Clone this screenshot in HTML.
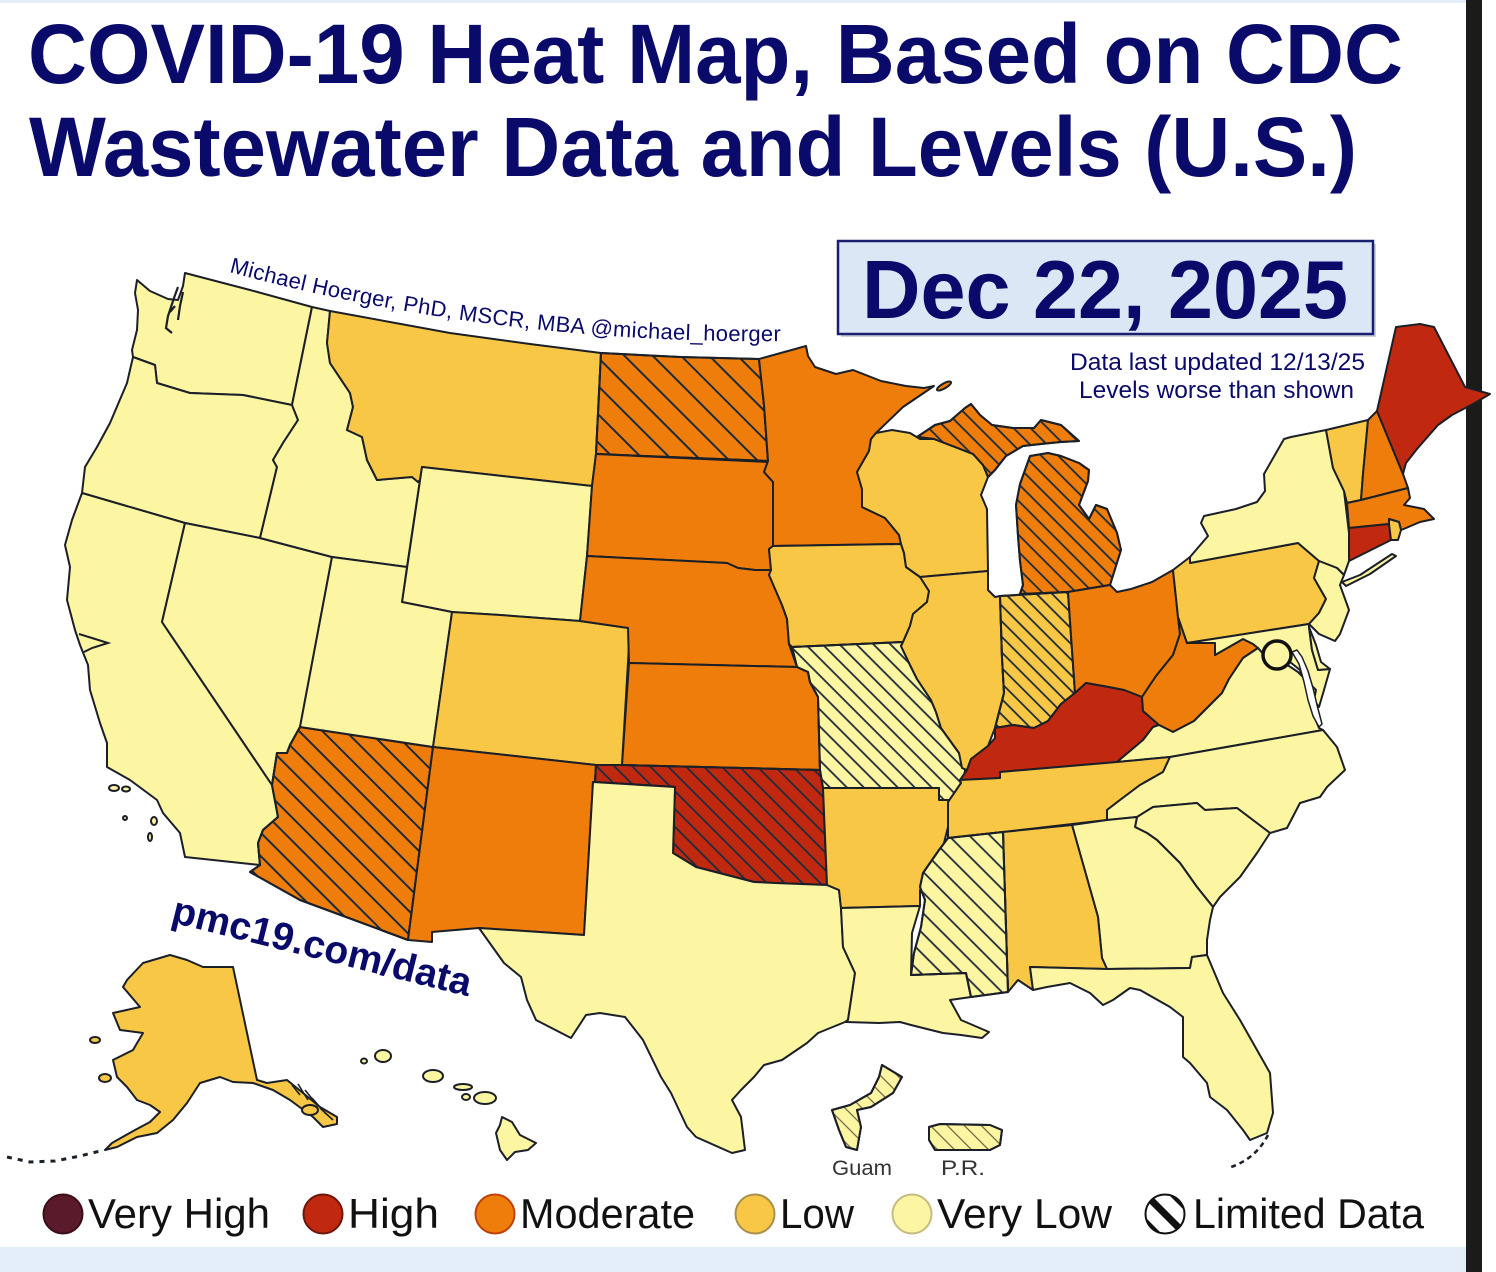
<!DOCTYPE html>
<html><head><meta charset="utf-8"><style>
html,body{margin:0;padding:0;background:#fff;}
svg{display:block;font-family:"Liberation Sans",Arial,sans-serif;}
</style></head><body>
<svg width="1496" height="1272" viewBox="0 0 1496 1272" xmlns="http://www.w3.org/2000/svg">
<defs>
<pattern id="h20" patternUnits="userSpaceOnUse" width="20" height="20" patternTransform="rotate(-45)"><line x1="10" y1="0" x2="10" y2="20" stroke="#1e2b3b" stroke-width="2"/></pattern>
<pattern id="h16" patternUnits="userSpaceOnUse" width="16.5" height="20" patternTransform="rotate(-45)"><line x1="8" y1="0" x2="8" y2="20" stroke="#1e2b3b" stroke-width="2"/></pattern>
<pattern id="h15" patternUnits="userSpaceOnUse" width="14.6" height="20" patternTransform="rotate(-45)"><line x1="7" y1="0" x2="7" y2="20" stroke="#1e2b3b" stroke-width="1.8"/></pattern>
<pattern id="h13" patternUnits="userSpaceOnUse" width="12.6" height="20" patternTransform="rotate(-45)"><line x1="6" y1="0" x2="6" y2="20" stroke="#1e2b3b" stroke-width="1.8"/></pattern>
<pattern id="h12" patternUnits="userSpaceOnUse" width="12" height="20" patternTransform="rotate(-45)"><line x1="6" y1="0" x2="6" y2="20" stroke="#1e2b3b" stroke-width="1.8"/></pattern>
<pattern id="h11" patternUnits="userSpaceOnUse" width="11" height="20" patternTransform="rotate(-45)"><line x1="5" y1="0" x2="5" y2="20" stroke="#1e2b3b" stroke-width="1.8"/></pattern>
<pattern id="hg" patternUnits="userSpaceOnUse" width="12" height="20" patternTransform="rotate(-45)"><line x1="6" y1="0" x2="6" y2="20" stroke="#6a6040" stroke-width="1.2"/></pattern>
<clipPath id="ldclip"><circle cx="1165" cy="1214" r="19"/></clipPath>
<path id="arc" d="M229,272 Q500,345 792,341" fill="none"/>
</defs>

<rect x="0" y="0" width="1466" height="3" fill="#e3eef9"/>
<rect x="0" y="1247" width="1466" height="25" fill="#e3eef9"/>
<rect x="1466" y="0" width="16" height="1272" fill="#1b1b19"/>

<!-- Title -->
<text x="28" y="83" font-size="84" font-weight="bold" fill="#0a0a6a" textLength="1375" lengthAdjust="spacingAndGlyphs">COVID-19 Heat Map, Based on CDC</text>
<text x="29" y="176" font-size="84" font-weight="bold" fill="#0a0a6a" textLength="1328" lengthAdjust="spacingAndGlyphs">Wastewater Data and Levels (U.S.)</text>

<!-- Date box -->
<rect x="841" y="244" width="535" height="93" fill="#9aa3b3" opacity="0.5"/>
<rect x="838" y="241" width="535" height="93" fill="#dbe7f5" stroke="#1a2070" stroke-width="2.5"/>
<text x="862" y="318" font-size="83" font-weight="bold" fill="#0a0a6a" textLength="486" lengthAdjust="spacingAndGlyphs">Dec 22, 2025</text>
<text x="1070" y="370" font-size="24.5" fill="#0a0a6a" textLength="295" lengthAdjust="spacingAndGlyphs">Data last updated 12/13/25</text>
<text x="1079" y="398" font-size="24.5" fill="#0a0a6a" textLength="275" lengthAdjust="spacingAndGlyphs">Levels worse than shown</text>

<!-- Curved credit -->
<text font-size="22" fill="#0a0a6a" letter-spacing="0.3"><textPath href="#arc">Michael Hoerger, PhD, MSCR, MBA  @michael_hoerger</textPath></text>

<!-- MAP -->
<g stroke="#1b1f28" stroke-width="2" stroke-linejoin="round">
<!-- West -->
<polygon fill="#fcf5a2" points="137,280 150,291 168,299 178,300 183,286 185,273 250,290 312,307 292,405 243,395 190,393 157,383 155,365 133,357 132,350 137,330 138,310 135,293"/>
<polygon fill="#fcf5a2" points="133,357 155,365 157,383 190,393 243,395 292,405 298,420 283,443 273,460 277,467 260,538 185,523 82,493 85,467 97,447 110,423 127,383"/>
<polygon fill="#fcf5a2" points="82,493 185,523 162,622 272,785 278,817 263,830 258,843 260,865 185,857 180,833 163,813 157,800 130,780 107,767 107,743 100,723 90,690 88,665 80,645 75,630 67,600 70,567 65,545 72,520"/>
<polygon fill="#fcf5a2" points="185,523 260,538 332,557 300,727 290,745 287,753 277,753 272,785 162,622"/>
<polygon fill="#ee7d0c" points="300,727 433,747 408,940 300,900 250,872 260,865 258,843 263,830 278,817 272,785 277,753 287,753 290,745"/>
<polygon fill="url(#h16)" points="300,727 433,747 408,940 300,900 250,872 260,865 258,843 263,830 278,817 272,785 277,753 287,753 290,745"/>
<polygon fill="#fcf5a2" points="312,307 330,311 327,343 330,363 350,393 353,407 347,430 362,437 367,460 377,480 412,477 418,482 420,480 407,567 332,557 260,538 277,467 273,460 283,443 298,420 292,405"/>
<polygon fill="#f8c745" points="330,311 390,322 450,333 530,344 601,353 596,454 592,486 422,467 420,480 418,482 412,477 377,480 367,460 362,437 347,430 353,407 350,393 330,363 327,343"/>
<polygon fill="#fcf5a2" points="422,467 592,486 587,556 580,621 500,615 452,612 402,602"/>
<polygon fill="#fcf5a2" points="332,557 407,567 402,602 452,612 433,747 300,727"/>
<polygon fill="#f8c745" points="452,612 500,615 580,621 630,628 622,765 596,765 433,747"/>
<polygon fill="#ee7d0c" points="433,747 596,765 595,782 593,782 584,935 479,928 432,932 432,942 408,940"/>
<!-- Plains -->
<polygon fill="#ee7d0c" points="601,353 680,357 759,359 764,405 768,461 596,454"/>
<polygon fill="url(#h20)" points="601,353 680,357 759,359 764,405 768,461 596,454"/>
<polygon fill="#ee7d0c" points="596,454 768,462 764,472 773,482 773,546 769,549 771,570 755,570 738,568 727,563 587,556 592,486"/>
<polygon fill="#ee7d0c" points="587,556 727,563 738,568 755,570 771,570 769,575 782,605 787,619 789,644 797,667 629,663 628,628 580,621"/>
<polygon fill="#ee7d0c" points="629,663 797,667 808,672 810,682 818,697 820,770 622,765"/>
<polygon fill="#c0290f" points="596,765 622,765 820,770 823,788 827,885 775,883 754,882 696,867 673,853 675,787 595,782"/>
<polygon fill="url(#h13)" points="596,765 622,765 820,770 823,788 827,885 775,883 754,882 696,867 673,853 675,787 595,782"/>
<polygon fill="#fcf5a2" points="593,782 675,787 673,853 696,867 754,882 775,883 827,885 839,890 841,908 843,947 855,973 848,1020 845,1022 818,1033 807,1043 782,1060 764,1065 754,1077 741,1090 732,1100 741,1117 745,1150 732,1153 696,1137 687,1127 671,1093 661,1077 643,1040 625,1017 600,1013 586,1015 571,1038 536,1020 527,1000 521,977 504,963 479,928 584,935"/>
<polygon fill="#ee7d0c" points="759,359 806,346 808,356 815,367 836,374 853,370 881,381 906,386 924,388 934,386 903,407 876,433 871,439 869,451 857,472 862,489 862,507 885,518 899,535 901,544 773,546 773,482 764,472 768,461 764,405"/>
<polygon fill="#f8c745" points="773,546 901,544 904,553 906,567 920,577 929,591 927,602 913,614 910,626 903,642 792,647 789,644 787,619 782,605 769,575 771,570 769,549"/>
<polygon fill="#fcf5a2" points="792,647 903,642 901,646 910,665 917,679 931,700 936,712 941,728 959,753 966,767 962,784 959,795 954,800 939,800 939,788 823,788 820,770 818,697 810,682 808,672 797,667"/>
<polygon fill="url(#h12)" points="792,647 903,642 901,646 910,665 917,679 931,700 936,712 941,728 959,753 966,767 962,784 959,795 954,800 939,800 939,788 823,788 820,770 818,697 810,682 808,672 797,667"/>
<polygon fill="#f8c745" points="823,788 939,788 939,800 954,800 948,827 943,847 929,873 920,890 920,906 841,908 839,890 827,885"/>
<polygon fill="#fcf5a2" points="841,908 920,906 912,933 911,975 966,973 971,997 950,1000 961,1020 989,1032 982,1038 961,1035 943,1033 911,1025 900,1022 879,1023 846,1022 848,1020 855,973 843,947"/>
<!-- Great Lakes / Midwest -->
<polygon fill="#f8c745" points="876,433 892,430 910,433 920,439 934,439 955,447 973,454 983,465 990,475 988,477 981,495 987,509 988,571 920,577 906,567 904,553 901,544 899,535 885,518 862,507 862,489 857,472 869,451 871,439"/>
<polygon fill="#ee7d0c" points="917,437 935,425 950,421 965,408 971,404 980,415 992,425 1013,428 1034,428 1041,420 1061,425 1079,441 1061,442 1041,444 1023,446 1006,456 995,470 988,477 983,465 973,454 955,447 934,439"/>
<polygon fill="url(#h12)" points="917,437 935,425 950,421 965,408 971,404 980,415 992,425 1013,428 1034,428 1041,420 1061,425 1079,441 1061,442 1041,444 1023,446 1006,456 995,470 988,477 983,465 973,454 955,447 934,439"/>
<polygon fill="#ee7d0c" points="1030,456 1048,453 1061,456 1079,463 1089,470 1088,481 1079,505 1089,519 1096,505 1107,509 1117,533 1121,550 1110,585 1068,592 1020,594 1023,585 1020,561 1018,536 1016,505 1020,484"/>
<polygon fill="url(#h12)" points="1030,456 1048,453 1061,456 1079,463 1089,470 1088,481 1079,505 1089,519 1096,505 1107,509 1117,533 1121,550 1110,585 1068,592 1020,594 1023,585 1020,561 1018,536 1016,505 1020,484"/>
<polygon fill="#f8c745" points="920,577 988,571 988,590 995,597 1000,596 1002,658 1004,693 995,728 988,746 971,759 967,770 962,768 959,753 941,728 936,712 931,700 917,679 910,665 901,646 903,642 910,626 913,614 927,602 929,591"/>
<polygon fill="#f8c745" points="1000,596 1068,592 1075,693 1061,704 1048,721 1034,728 1013,725 995,728 1004,693 1002,658"/>
<polygon fill="url(#h11)" points="1000,596 1068,592 1075,693 1061,704 1048,721 1034,728 1013,725 995,728 1004,693 1002,658"/>
<polygon fill="#ee7d0c" points="1068,592 1110,585 1117,592 1131,589 1152,582 1173,570 1178,617 1180,634 1173,655 1156,676 1142,697 1124,690 1103,686 1086,683 1075,693"/>
<polygon fill="#c0290f" points="1075,693 1086,683 1103,686 1124,690 1142,697 1143,711 1159,725 1153,727 1143,740 1117,762 1000,772 1000,778 960,780 967,770 971,759 988,746 995,738 995,728 1013,725 1034,728 1048,721 1061,704"/>
<polygon fill="#ee7d0c" points="1178,617 1187,643 1215,643 1215,655 1243,639 1253,644 1258,648 1243,658 1229,679 1222,693 1208,707 1194,721 1173,732 1159,725 1143,711 1142,697 1156,676 1173,655 1180,634"/>
<!-- Northeast -->
<polygon fill="#f8c745" points="1173,570 1190,557 1190,563 1298,543 1319,561 1314,578 1326,599 1319,613 1309,624 1187,643 1178,617"/>
<polygon fill="#fcf5a2" points="1190,557 1208,536 1201,523 1204,516 1236,509 1257,502 1265,491 1264,474 1284,439 1291,437 1326,430 1333,468 1344,491 1349,533 1349,561 1344,575 1337,568 1319,561 1298,543 1190,563"/>
<polygon fill="#fcf5a2" points="1342,582 1360,575 1392,554 1396,556 1370,574 1346,586"/>
<polygon fill="#f8c745" points="1326,430 1368,420 1363,474 1361,500 1347,503 1344,491 1333,468"/>
<polygon fill="#ee7d0c" points="1368,420 1377,411 1403,474 1408,488 1361,500 1363,474"/>
<polygon fill="#c0290f" points="1377,411 1396,327 1420,324 1434,327 1465,387 1490,394 1473,404 1452,415 1438,425 1417,449 1406,463 1403,474"/>
<polygon fill="#ee7d0c" points="1347,503 1361,500 1408,488 1410,498 1404,505 1424,509 1434,519 1420,522 1406,528 1401,530 1399,522 1389,519 1389,524 1349,528"/>
<polygon fill="#c0290f" points="1349,528 1389,524 1391,540 1351,560 1349,561"/>
<polygon fill="#f8c745" points="1389,519 1399,522 1401,530 1398,540 1391,540 1389,524"/>
<polygon fill="#fcf5a2" points="1319,561 1337,568 1344,575 1340,585 1349,610 1340,634 1335,641 1319,634 1309,624 1319,613 1326,599 1314,578"/>
<polygon fill="#fcf5a2" points="1187,643 1309,624 1309,627 1312,650 1318,670 1330,669 1324,690 1319,707 1306,690 1300,670 1290,662 1280,656 1264,655 1258,648 1253,644 1243,639 1215,655 1215,643"/>
<polygon fill="#fcf5a2" points="1309,627 1316,645 1321,662 1330,669 1318,670 1312,650"/>
<polygon fill="#fcf5a2" points="1117,762 1143,740 1153,727 1159,725 1173,732 1194,721 1208,707 1222,693 1229,679 1243,658 1258,648 1264,655 1280,660 1298,672 1316,690 1312,711 1319,728 1323,730 1170,757"/>
<polygon fill="#ffffff" stroke-width="1.5" points="1292,652 1299,664 1304,682 1308,700 1313,716 1319,727 1322,724 1317,705 1313,688 1308,671 1302,657 1297,650"/>
<!-- South -->
<polygon fill="#f8c745" points="960,780 1000,778 1000,772 1117,762 1170,757 1163,772 1140,785 1120,800 1107,810 1107,820 1003,832 948,838 948,802 961,783"/>
<polygon fill="#fcf5a2" points="1170,757 1323,730 1337,747 1345,770 1327,787 1320,797 1300,803 1287,828 1270,833 1237,808 1205,810 1197,803 1153,807 1137,817 1107,820 1107,810 1120,800 1140,785 1163,772"/>
<polygon fill="#fcf5a2" points="1137,817 1153,807 1197,803 1205,810 1237,808 1270,833 1257,853 1240,877 1220,897 1213,907 1197,887 1180,863 1157,840 1147,833 1135,827"/>
<polygon fill="#fcf5a2" points="1072,825 1107,820 1137,817 1135,827 1147,833 1157,840 1180,863 1197,887 1213,907 1210,920 1207,940 1207,955 1192,957 1190,968 1107,969 1102,958 1098,917"/>
<polygon fill="#f8c745" points="1003,832 1072,825 1098,917 1102,958 1107,969 1030,967 1033,990 1018,980 1008,992"/>
<polygon fill="#fcf5a2" points="1030,967 1107,969 1190,968 1192,957 1207,955 1223,993 1240,1020 1257,1050 1270,1073 1273,1113 1267,1133 1250,1140 1243,1130 1227,1110 1210,1097 1207,1083 1190,1063 1183,1057 1183,1017 1170,1007 1140,990 1130,988 1113,1000 1103,1005 1090,993 1070,983 1047,987 1033,990"/>
<polygon fill="#fcf5a2" points="948,838 1003,832 1008,992 971,997 966,973 911,975 914,953 921,927 925,900 920,887 923,873 939,850"/>
<polygon fill="url(#h15)" points="948,838 1003,832 1008,992 971,997 966,973 911,975 914,953 921,927 925,900 920,887 923,873 939,850"/>
<!-- DC -->
<circle cx="1277" cy="655" r="14" fill="#fcf5a2" stroke="#111" stroke-width="3.5"/>
<!-- Alaska -->
<polygon fill="#f8c745" points="127,980 143,963 170,955 187,960 203,967 233,967 257,1080 267,1083 287,1080 303,1093 320,1107 337,1117 337,1124 323,1127 313,1117 290,1100 273,1090 253,1083 233,1082 220,1077 200,1083 187,1103 173,1120 157,1133 137,1137 117,1147 105,1150 112,1143 135,1130 150,1122 160,1112 150,1105 137,1100 127,1087 117,1077 113,1060 133,1050 143,1033 120,1030 113,1013 140,1007 123,987"/>
<polyline fill="none" stroke-width="3" stroke-dasharray="5 6" points="7,1157 30,1162 55,1161 80,1156 100,1151"/>
<ellipse cx="95" cy="1040" rx="5" ry="3" fill="#f8c745"/>
<ellipse cx="105" cy="1078" rx="6" ry="4" fill="#f8c745"/>
<ellipse cx="310" cy="1110" rx="8" ry="5" fill="#f8c745"/>
<!-- Hawaii -->
<ellipse cx="383" cy="1056" rx="8" ry="6" fill="#fcf5a2"/>
<ellipse cx="364" cy="1061" rx="3" ry="2.5" fill="#fcf5a2"/>
<ellipse cx="433" cy="1076" rx="10" ry="6" fill="#fcf5a2"/>
<ellipse cx="463" cy="1087" rx="9" ry="3" fill="#fcf5a2"/>
<ellipse cx="466" cy="1097" rx="4" ry="3" fill="#fcf5a2"/>
<ellipse cx="485" cy="1098" rx="11" ry="6" fill="#fcf5a2"/>
<polygon fill="#fcf5a2" points="502,1117 512,1122 520,1135 536,1143 528,1150 515,1152 507,1160 500,1150 496,1133 500,1125"/>
<!-- CA islands -->
<ellipse cx="114" cy="788" rx="5" ry="3" fill="#fcf5a2"/>
<ellipse cx="126" cy="789" rx="4" ry="2.5" fill="#fcf5a2"/>
<ellipse cx="125" cy="818" rx="2" ry="2" fill="#fcf5a2"/>
<ellipse cx="154" cy="821" rx="3" ry="4" fill="#fcf5a2"/>
<ellipse cx="150" cy="837" rx="2" ry="4" fill="#fcf5a2"/>
<!-- Isle Royale -->
<ellipse cx="944" cy="386" rx="8" ry="2.5" fill="#ee7d0c" transform="rotate(-30 944 386)"/>
<!-- Guam / PR -->
<polygon fill="#fcf5a2" points="882,1065 902,1077 893,1093 871,1107 857,1110 861,1127 857,1150 846,1147 839,1130 832,1110 850,1105 871,1093 879,1077"/>
<polygon fill="url(#hg)" points="882,1065 902,1077 893,1093 871,1107 857,1110 861,1127 857,1150 846,1147 839,1130 832,1110 850,1105 871,1093 879,1077"/>
<polygon fill="#fcf5a2" points="929,1127 940,1124 990,1125 1002,1130 1000,1145 990,1150 935,1150 929,1140"/>
<polygon fill="url(#hg)" points="929,1127 940,1124 990,1125 1002,1130 1000,1145 990,1150 935,1150 929,1140"/>
</g>
<!-- small details -->
<path d="M1268,1135 Q1255,1160 1228,1168" fill="none" stroke="#1b1f28" stroke-width="2.5" stroke-dasharray="5 4"/>
<path d="M79,634 L92,638 L108,643 L92,648 L84,652" fill="none" stroke="#1b1f28" stroke-width="2"/>
<path d="M178,287 L174,298 L168,316 L166,328 L172,333 M183,292 L180,306 L178,320 M175,306 L170,312" fill="none" stroke="#1b1f28" stroke-width="2.2"/>
<path d="M292,1085 L300,1095 M298,1084 L308,1100 M305,1090 L318,1106 M312,1098 L326,1114 M320,1108 L333,1120" fill="none" stroke="#1b1f28" stroke-width="1.6"/>

<text x="832" y="1175" font-size="21" fill="#333" textLength="60" lengthAdjust="spacingAndGlyphs">Guam</text>
<text x="941" y="1175" font-size="21" fill="#333" textLength="44" lengthAdjust="spacingAndGlyphs">P.R.</text>

<text transform="translate(170,922) rotate(14)" font-size="39" font-weight="bold" fill="#0a0a6a" textLength="307" lengthAdjust="spacingAndGlyphs">pmc19.com/data</text>

<!-- Legend -->
<circle cx="63" cy="1214" r="19.5" fill="#5b1a2a" stroke="#3a0f18" stroke-width="2"/>
<text x="88" y="1228" font-size="42" fill="#111" textLength="182" lengthAdjust="spacingAndGlyphs">Very High</text>
<circle cx="323" cy="1214" r="19.5" fill="#c0290f" stroke="#6e160a" stroke-width="2"/>
<text x="348" y="1228" font-size="42" fill="#111" textLength="91" lengthAdjust="spacingAndGlyphs">High</text>
<circle cx="495" cy="1214" r="19.5" fill="#ee7d0c" stroke="#c0400a" stroke-width="2"/>
<text x="520" y="1228" font-size="42" fill="#111" textLength="175" lengthAdjust="spacingAndGlyphs">Moderate</text>
<circle cx="755" cy="1214" r="19.5" fill="#f8c745" stroke="#a89050" stroke-width="2"/>
<text x="780" y="1228" font-size="42" fill="#111" textLength="74" lengthAdjust="spacingAndGlyphs">Low</text>
<circle cx="912" cy="1214" r="19.5" fill="#fcf5a2" stroke="#c4bc80" stroke-width="2"/>
<text x="937" y="1228" font-size="42" fill="#111" textLength="175" lengthAdjust="spacingAndGlyphs">Very Low</text>
<circle cx="1165" cy="1214" r="19.5" fill="#fff"/>
<g clip-path="url(#ldclip)" stroke="#111" stroke-width="7">
<line x1="1140" y1="1189" x2="1190" y2="1239"/>
<line x1="1156" y1="1177" x2="1206" y2="1227"/>
<line x1="1124" y1="1201" x2="1174" y2="1251"/>
</g>
<circle cx="1165" cy="1214" r="19.5" fill="none" stroke="#111" stroke-width="2"/>
<text x="1193" y="1228" font-size="42" fill="#111" textLength="231" lengthAdjust="spacingAndGlyphs">Limited Data</text>
</svg>
</body></html>
